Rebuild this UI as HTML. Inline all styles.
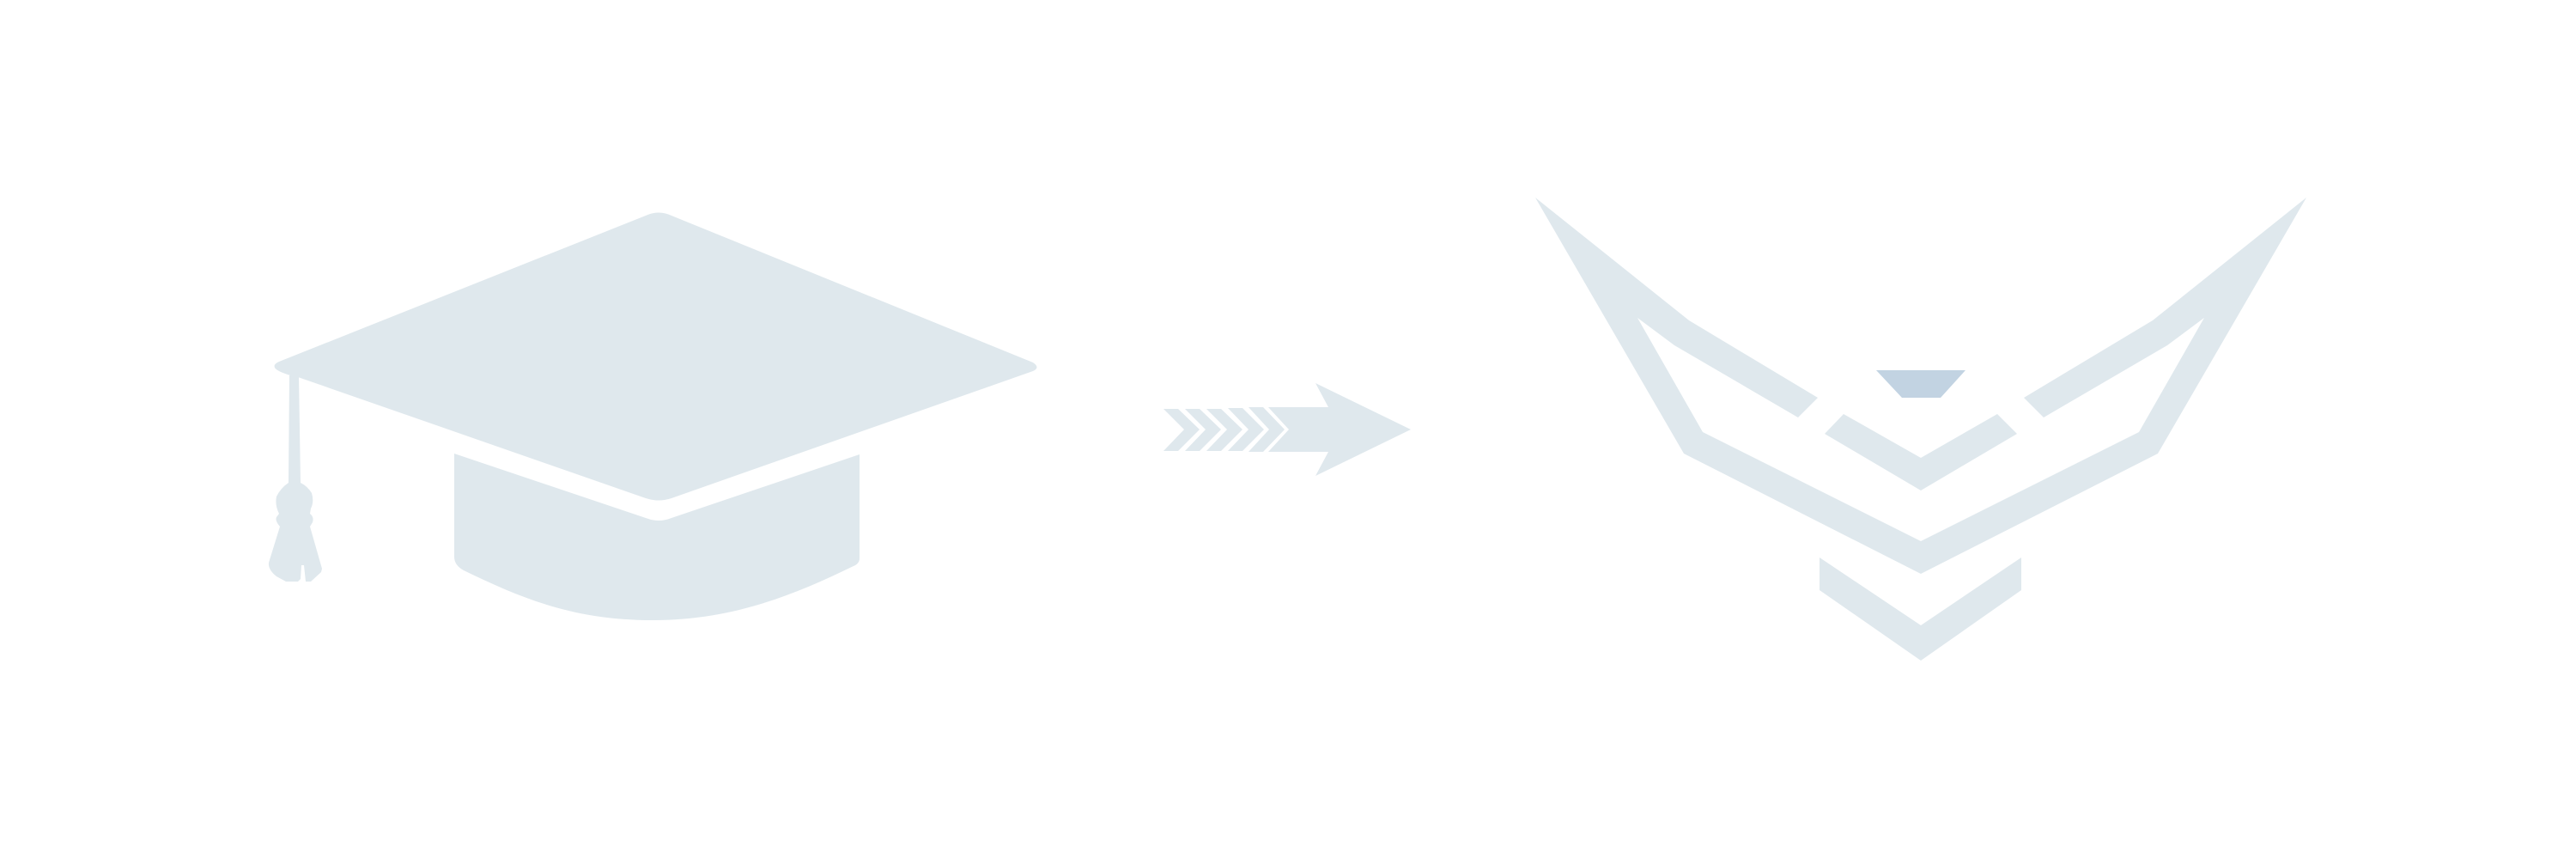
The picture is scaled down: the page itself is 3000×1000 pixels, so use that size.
<!DOCTYPE html>
<html><head><meta charset="utf-8"><style>html,body{margin:0;padding:0;background:#fff}svg{display:block}</style></head>
<body>
<svg width="3000" height="1000" viewBox="0 0 3000 1000" xmlns="http://www.w3.org/2000/svg">
<g fill="#dfe8ed">
<!-- cap top -->
<path d="M752,251 Q767,244 782,251 L1203,422 Q1212,428 1203,432 L782,580 Q767,585 752,580 L347,439 L338,437 Q322,432 320,428 Q318,424 325,421 Z"/>
<!-- bowl -->
<path d="M529,528 L752,603 Q767,609 782,603 L1001,529 L1001,650 Q1001,656 994,659 C920,695 850,722 760,722 C670,722 610,698 540,664 Q529,658 529,648 Z"/>
<!-- tassel -->
<path d="M337,437 L348,437 L350,562 Q358,566 363,574 Q366,584 362,592 L361,598 Q366,602 364,608 L361,613 L375,662 L374,666 L362,677 L356,677 L354,658 L351,658 L350,674 L347,677 L333,677 L322,671 Q312,663 313,655 L326,613 Q320,606 322,602 L325,598 Q320,588 322,578 Q327,568 336,562 Z"/>
<!-- arrow chevrons -->
<polygon points="1355,476 1372,476 1397,500 1372,525 1355,525 1379,500"/>
<polygon points="1380,476 1397,476 1422,500 1397,525 1380,525 1404,500"/>
<polygon points="1405,476 1422,476 1447,500 1422,525 1405,525 1429,500"/>
<polygon points="1430,475 1447,475 1472,500 1447,525 1430,525 1454,500"/>
<polygon points="1454,474 1471,474 1496,500 1471,526 1454,526 1478,500"/>
<polygon points="1477,474 1547,474 1532,446 1643,500 1532,554 1547,526 1477,526 1501,500"/>
<!-- logo outer -->
<polygon points="1788,230 1967,373 2117,463 2094,486 1950,402 1907,370 1983,503 2237,630 2491,503 2567,370 2524,402 2380,486 2357,463 2507,373 2686,230 2513,528 2237,668 1961,528"/>
<!-- middle chevron -->
<polygon points="2147,482 2237,533 2326,482 2349,505 2237,571 2125,505"/>
<!-- bottom chevron -->
<polygon points="2119,649 2237,728 2354,649 2354,687 2237,769 2119,687"/>
</g>
<polygon fill="#c2d3e2" points="2185,431 2289,431 2260,463 2215,463"/>
</svg>
</body></html>
